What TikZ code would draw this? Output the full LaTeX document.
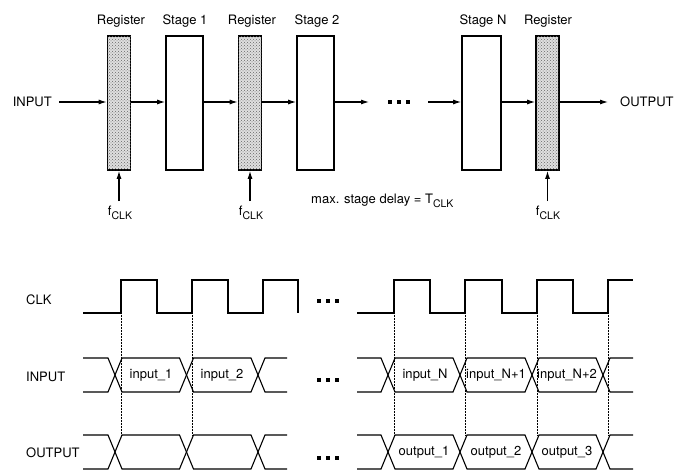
\documentclass[tikz,border=0pt]{standalone}
\usepackage{fontspec}
\setmainfont{TeX Gyre Heros}
\usetikzlibrary{arrows.meta,patterns}
\begin{document}
\begin{tikzpicture}[x=1pt,y=-1pt,
  font=\fontsize{13}{15}\selectfont,
  regbox/.style={draw,line width=1.7pt,fill=gray!25,minimum width=23pt,minimum height=134pt,inner sep=0pt,
    postaction={pattern=crosshatch dots,pattern color=gray!80!black}},
  stagebox/.style={draw,line width=1.7pt,fill=white,minimum width=37pt,minimum height=134pt,inner sep=0pt},
  arr/.style={line width=1.1pt,-{Latex[length=8pt,width=5pt]}},
  wave/.style={line width=1.1pt},
  guide/.style={densely dotted,line width=0.5pt},
  lbl/.style={inner sep=1pt},
  dotm/.style={rectangle,fill,inner sep=0pt,minimum size=3.4pt}]
\useasboundingbox (0,0) rectangle (695,473);

% ---------- pipeline ----------
\node[regbox] (r1) at (119,103) {};
\node[stagebox] (s1) at (184.5,103) {};
\node[regbox] (r2) at (250,103) {};
\node[stagebox] (s2) at (315.5,103) {};
\node[stagebox,minimum width=39pt] (sN) at (481.5,103) {};
\node[regbox] (r3) at (547.5,103) {};

\node[lbl] (t1) at (121,21) {Register};
\node[lbl] (t2) at (185,21) {Stage 1};
\node[lbl] (t3) at (252,21) {Register};
\node[lbl] (t4) at (317,21) {Stage 2};
\node[lbl] (t5) at (483,21) {Stage N};
\node[lbl] (t6) at (548,21) {Register};

\node[lbl,anchor=east] (in) at (53,102) {INPUT};
\node[lbl,anchor=west] (out) at (619,102) {OUTPUT};

\draw[arr] (in.east) ++(6,0) coordinate (inS) (inS) -- (r1.west |- inS);
\draw[arr] (r1.east |- inS) -- (s1.west |- inS);
\draw[arr] (s1.east |- inS) -- (r2.west |- inS);
\draw[arr] (r2.east |- inS) -- (s2.west |- inS);
\coordinate (g1) at (369,102);
\coordinate (g2) at (428,102);
\draw[arr] (s2.east |- inS) -- (g1);
\draw[arr] (g2) -- (sN.west |- inS);
\draw[arr] (sN.east |- inS) -- (r3.west |- inS);
\coordinate (oe) at (608,102);
\draw[arr] (r3.east |- inS) -- (oe);

\node[dotm] (d1) at (390,102) {};
\node[dotm] (d2) at (399,102) {};
\node[dotm] (d3) at (408,102) {};

\coordinate (c1) at (119,201);
\coordinate (c2) at (250,201);
\coordinate (c3) at (547.5,201);
\draw[arr] (c1) -- (r1.south);
\draw[arr] (c2) -- (r2.south);
\draw[arr] (c3) -- (r3.south);
\newcommand{\fclk}{f\raisebox{-3.5pt}{\fontsize{10.5}{10.5}\selectfont CLK}}
\node[lbl] (f1) at (120,213) {\fclk};
\node[lbl] (f2) at (251,213) {\fclk};
\node[lbl] (f3) at (548,213) {\fclk};
\node[lbl,anchor=west] (md) at (310,201) {max. stage delay = T\raisebox{-3.5pt}{\fontsize{10.5}{10.5}\selectfont CLK}};

% ---------- timing ----------
\node[lbl,anchor=west] (lclk) at (25,300) {CLK};
\node[lbl,anchor=west] (linp) at (25,377) {INPUT};
\node[lbl,anchor=west] (lout) at (25,453) {OUTPUT};

\draw[wave] (83,313) -- (121,313) -- (121,280) -- (157,280) -- (157,313) -- (192,313) -- (192,280)
  -- (228,280) -- (228,313) -- (263,313) -- (263,280) -- (298,280) -- (298,313);
\draw[wave] (357,313) -- (394,313) -- (394,280) -- (430,280) -- (430,313) -- (465,313) -- (465,280)
  -- (502,280) -- (502,313) -- (537,313) -- (537,280) -- (573,280) -- (573,313) -- (608,313) -- (608,280) -- (633,280);

% guides
\foreach \x in {121,192,394,465,537,608}{
  \draw[guide] (\x,313) -- (\x,435);
}

% buses
\newcommand{\busL}[2]{%
  \draw[wave] (83,#1) -- (108,#1) -- (122,#2) -- (179.5,#2) -- (193.5,#1) -- (251,#1) -- (265,#2) -- (287,#2);
  \draw[wave] (83,#2) -- (108,#2) -- (122,#1) -- (179.5,#1) -- (193.5,#2) -- (251,#2) -- (265,#1) -- (287,#1);}
\newcommand{\busR}[2]{%
  \draw[wave] (357,#1) -- (381,#1) -- (395,#2) -- (453,#2) -- (467,#1) -- (525,#1) -- (539,#2) -- (596,#2) -- (610,#1) -- (633,#1);
  \draw[wave] (357,#2) -- (381,#2) -- (395,#1) -- (453,#1) -- (467,#2) -- (525,#2) -- (539,#1) -- (596,#1) -- (610,#2) -- (633,#2);}
\busL{358}{392}
\busR{358}{392}
\busL{435}{469}
\busR{435}{469}

\node[lbl] (i1) at (151,375) {input\_1};
\node[lbl] (i2) at (222,375) {input\_2};
\node[lbl] (iN) at (425,375) {input\_N};
\node[lbl] (iN1) at (496,375) {input\_N+1};
\node[lbl] (iN2) at (567,375) {input\_N+2};
\node[lbl] (o1) at (424,452) {output\_1};
\node[lbl] (o2) at (496,452) {output\_2};
\node[lbl] (o3) at (567,452) {output\_3};

\foreach \y/\n in {301/a,380/b,458/c}{
  \node[dotm] (e\n1) at (319,\y) {};
  \node[dotm] (e\n2) at (328,\y) {};
  \node[dotm] (e\n3) at (337,\y) {};
}
\end{tikzpicture}
\end{document}
